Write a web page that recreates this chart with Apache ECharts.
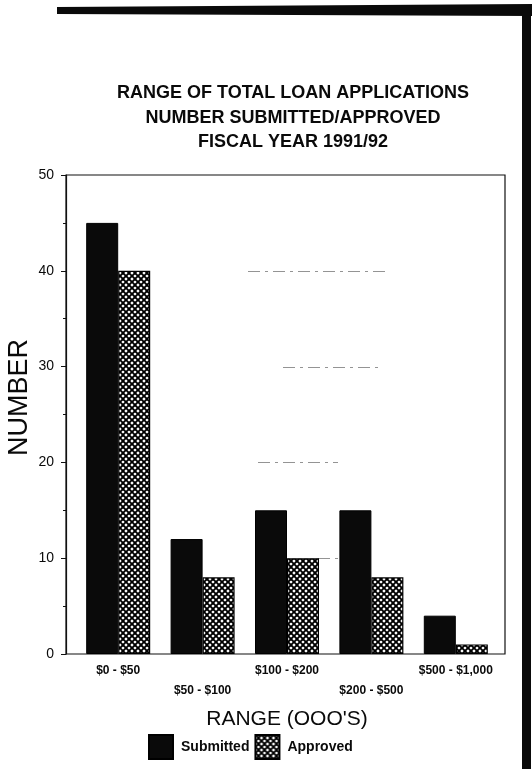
<!DOCTYPE html>
<html>
<head>
<meta charset="utf-8">
<title>Range of Total Loan Applications</title>
<script src="https://cdn.jsdelivr.net/npm/echarts@6/dist/echarts.min.js"></script>
<style>
  html, body { margin: 0; padding: 0; background: #fff; }
  #chart { width: 532px; height: 769px; }
</style>
</head>
<body>
<div id="chart"></div>
<script>
// Loan ranges (thousands of dollars)
const categories = ['$0 - $50', '$50 - $100', '$100 - $200', '$200 - $500', '$500 - $1,000'];
// Number of applications per range
const submitted = [45, 12, 15, 15, 4];
const approved = [40, 8, 10, 8, 1];
// Value axis
const yMin = 0;
const yMax = 50;
const yStep = 10;

const titleLines = ['RANGE OF TOTAL LOAN APPLICATIONS', 'NUMBER SUBMITTED/APPROVED', 'FISCAL YEAR 1991/92'];
const yName = 'NUMBER';

// Cross-hatch fill used for the "Approved" bars
function makeHatch() {
  const c = document.createElement('canvas');
  const s = 6;
  c.width = s; c.height = s;
  const ctx = c.getContext('2d');
  ctx.fillStyle = '#fff';
  ctx.fillRect(0, 0, s, s);
  ctx.strokeStyle = '#000';
  ctx.lineWidth = 1.9;
  ctx.beginPath();
  for (let k = -s; k <= s; k += s) {
    ctx.moveTo(k, 0); ctx.lineTo(k + s, s);
    ctx.moveTo(k + s, 0); ctx.lineTo(k, s);
  }
  ctx.stroke();
  return c;
}
const hatch = { image: makeHatch(), repeat: 'repeat' };

const chart = echarts.init(document.getElementById('chart'), null, { renderer: 'canvas' });

const sans = 'Liberation Sans';

chart.setOption({
  animation: false,
  backgroundColor: '#fff',
  title: {
    text: titleLines.join('\n'),
    left: 288,
    textAlign: 'center',
    top: 76,
    textStyle: {
      fontFamily: sans,
      fontWeight: 'bold',
      fontSize: 18,
      lineHeight: 24.5,
      color: '#0a0a0a'
    }
  },
  legend: {
    left: 143,
    top: 729,
    itemWidth: 24,
    itemHeight: 24,
    itemGap: 5,
    textStyle: {
      fontFamily: sans,
      fontWeight: 'bold',
      fontSize: 14,
      color: '#0a0a0a',
      padding: [0, 0, 0, 3]
    },
    data: [
      { name: 'Submitted', icon: 'rect' },
      { name: 'Approved', icon: 'rect' }
    ]
  },
  grid: [
    // outer frame of the plot area
    { left: 66, top: 175, right: 27, bottom: 115, show: true, borderColor: '#111', borderWidth: 1.2, backgroundColor: 'transparent', outerBoundsMode: 'none', containLabel: false },
    // band area for the bars
    { left: 76, top: 175, right: 34, bottom: 115, outerBoundsMode: 'none', containLabel: false }
  ],
  xAxis: [
    { gridIndex: 0, type: 'value', show: false, min: 0, max: 1 },
    {
      gridIndex: 1,
      type: 'category',
      data: categories,
      axisLine: { show: false },
      axisTick: { show: false },
      axisLabel: {
        interval: 0,
        margin: 7,
        fontFamily: sans,
        fontWeight: 'bold',
        fontSize: 12,
        lineHeight: 20,
        color: '#0a0a0a',
        formatter: (v, i) => (i % 2 ? '\n' + v : v)
      },
      name: "RANGE (OOO'S)",
      nameLocation: 'middle',
      nameGap: 55,
      nameTextStyle: {
        fontFamily: sans,
        fontSize: 21,
        color: '#0a0a0a'
      }
    }
  ],
  yAxis: [
    {
      gridIndex: 0,
      type: 'value',
      min: yMin,
      max: yMax,
      interval: yStep,
      axisLine: { show: true, lineStyle: { color: '#111', width: 1.2 } },
      axisTick: { show: true, inside: false, length: 5, lineStyle: { color: '#111' } },
      minorTick: { show: true, splitNumber: 2, length: 3, lineStyle: { color: '#111' } },
      splitLine: { show: false },
      axisLabel: {
        margin: 12,
        fontFamily: sans,
        fontSize: 14,
        color: '#0a0a0a'
      }
    },
    { gridIndex: 1, type: 'value', show: false, min: yMin, max: yMax, interval: yStep }
  ],
  series: [
    {
      name: 'Submitted',
      type: 'bar',
      xAxisIndex: 1,
      yAxisIndex: 1,
      data: submitted,
      barWidth: 32,
      barGap: '0%',
      itemStyle: { color: '#0a0a0a', borderColor: '#000', borderWidth: 1 }
    },
    {
      name: 'Approved',
      type: 'bar',
      xAxisIndex: 1,
      yAxisIndex: 1,
      data: approved,
      barWidth: 32,
      barGap: '0%',
      itemStyle: { color: hatch, borderColor: '#000', borderWidth: 1.2 }
    }
  ]
});

// Faint broken guide lines that show through the print, the y-axis title and the heavy page edges
const ghostRuns = [
  { v: 40, x0: 248, x1: 385 },
  { v: 30, x0: 283, x1: 383 },
  { v: 20, x0: 258, x1: 338 },
  { v: 10, x0: 318, x1: 338 }
];
const decor = ghostRuns.map(g => {
  const y = Math.round(chart.convertToPixel({ yAxisIndex: 0 }, g.v)) + 0.5;
  return {
    type: 'line',
    silent: true,
    shape: { x1: g.x0, y1: y, x2: g.x1, y2: y },
    style: { stroke: '#666', lineWidth: 1, lineDash: [12, 5, 3, 5], opacity: 0.7 }
  };
});
const yMid = chart.convertToPixel({ yAxisIndex: 0 }, (yMin + yMax) / 2);
decor.push(
  {
    type: 'text',
    silent: true,
    x: 20,
    y: yMid - 17,
    rotation: Math.PI / 2,
    style: {
      text: yName,
      fontFamily: sans,
      fontSize: 27,
      fill: '#0a0a0a',
      align: 'center',
      verticalAlign: 'middle'
    }
  },
  { type: 'polygon', silent: true, shape: { points: [[57, 7], [532, 4], [532, 16], [57, 14]] }, style: { fill: '#0a0a0a' } },
  { type: 'rect', silent: true, shape: { x: 522, y: 12, width: 9, height: 757 }, style: { fill: '#0a0a0a' } }
);
chart.setOption({ graphic: decor });
</script>
</body>
</html>
